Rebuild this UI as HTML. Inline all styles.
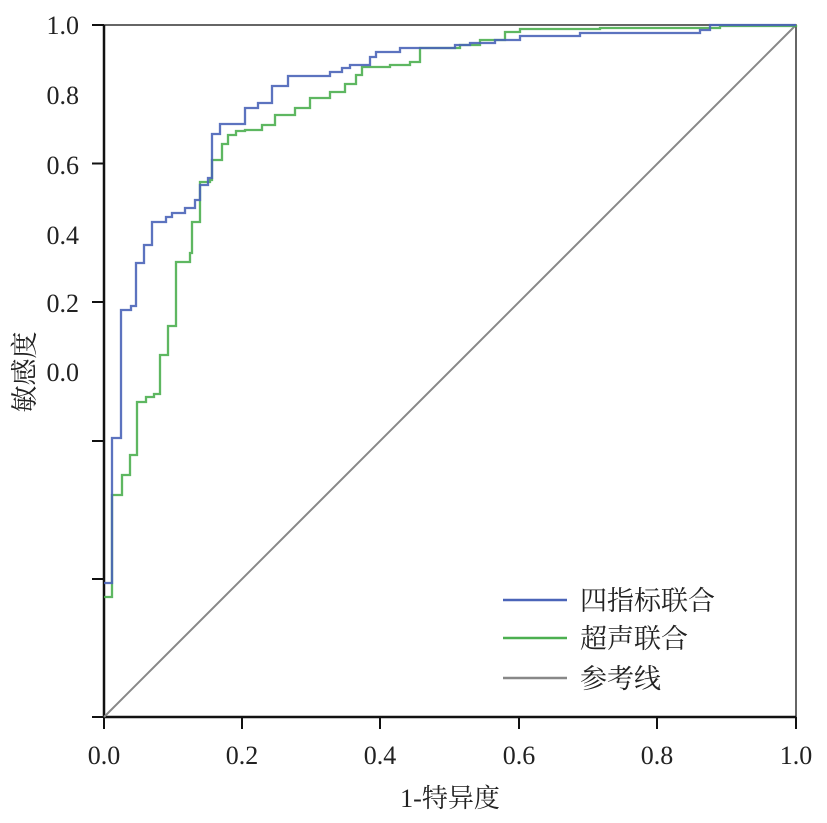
<!DOCTYPE html>
<html><head><meta charset="utf-8"><style>
body{margin:0;background:#fff}
text{font-family:"Liberation Serif","Noto Serif CJK SC",serif;fill:#222}
</style></head><body>
<svg width="827" height="818" viewBox="0 0 827 818" xmlns="http://www.w3.org/2000/svg">
<rect width="827" height="818" fill="#fff"/>
<rect x="104" y="25" width="692" height="692" fill="none" stroke="#333" stroke-width="1.5"/>
<line x1="104" y1="25" x2="104" y2="717" stroke="#111" stroke-width="2.5"/>
<line x1="104" y1="717" x2="796" y2="717" stroke="#111" stroke-width="2.5"/>
<g stroke="#111" stroke-width="2">
<line x1="92" y1="25" x2="104" y2="25"/><line x1="92" y1="163.5" x2="104" y2="163.5"/>
<line x1="92" y1="302" x2="104" y2="302"/><line x1="92" y1="441" x2="104" y2="441"/>
<line x1="92" y1="579" x2="104" y2="579"/><line x1="92" y1="717" x2="104" y2="717"/>
<line x1="104" y1="717" x2="104" y2="729"/><line x1="242" y1="717" x2="242" y2="729"/>
<line x1="380" y1="717" x2="380" y2="729"/><line x1="519" y1="717" x2="519" y2="729"/>
<line x1="657" y1="717" x2="657" y2="729"/><line x1="796" y1="717" x2="796" y2="729"/>
</g>
<g font-size="26" text-anchor="end">
<text x="79" y="34">1.0</text><text x="79" y="104">0.8</text><text x="79" y="174">0.6</text>
<text x="79" y="244">0.4</text><text x="79" y="312">0.2</text><text x="79" y="381">0.0</text>
</g>
<g font-size="26" text-anchor="middle">
<text x="104" y="764">0.0</text><text x="242" y="764">0.2</text><text x="380" y="764">0.4</text>
<text x="519" y="764">0.6</text><text x="657" y="764">0.8</text><text x="796" y="764">1.0</text>
<text x="450" y="807">1-特异度</text>
</g>
<text font-size="27" text-anchor="middle" transform="translate(34,372) rotate(-90)">敏感度</text>
<line x1="104" y1="717" x2="796" y2="25" stroke="#888" stroke-width="2"/>
<path fill="none" stroke="#4caf50" stroke-width="2.3" stroke-opacity="0.9" d="M104,597 H112 V495 H122 V475 H130 V455 H137 V402 H146 V397 H154 V394 H160 V355 H168 V326 H176 V262 H190 V253 H192 V222 H200 V182 H210 V180 H212 V160 H222 V144 H228 V135 H236 V131 H245 V130 H262 V125 H275 V115 H295 V108 H310 V98 H330 V92 H345 V84 H356 V75 H362 V67 H390 V65 H410 V62 H420 V48 H460 V45 H480 V40 H505 V32 H520 V29 H600 V28 H720 V26 H796 V25"/>
<path fill="none" stroke="#4a64b8" stroke-width="2.3" stroke-opacity="0.9" d="M104,583 H112 V438 H121 V310 H131 V306 H136 V263 H144 V245 H152 V222 H166 V217 H172 V213 H185 V208 H195 V200 H200 V185 H208 V178 H212 V134 H220 V124 H240 V124 H245 V108 H258 V103 H272 V86 H288 V76 H330 V72 H342 V68 H350 V65 H370 V57 H376 V52 H400 V48 H455 V45 H470 V43 H495 V40 H520 V36 H580 V33 H700 V30 H710 V25 H796"/>
<g stroke-width="2.5">
<line x1="503" y1="600" x2="567" y2="600" stroke="#4a64b8"/>
<line x1="503" y1="638" x2="567" y2="638" stroke="#4caf50"/>
<line x1="503" y1="678" x2="567" y2="678" stroke="#888"/>
</g>
<g font-size="27">
<text x="580" y="610">四指标联合</text>
<text x="580" y="648">超声联合</text>
<text x="580" y="688">参考线</text>
</g>
</svg>
</body></html>
